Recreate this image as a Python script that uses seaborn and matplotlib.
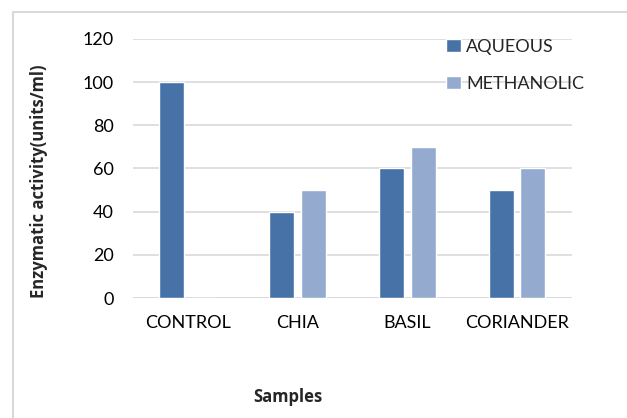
import matplotlib
matplotlib.use("Agg")
import matplotlib.pyplot as plt
import seaborn as sns
import pandas as pd
from matplotlib.patches import Rectangle

categories = ["CONTROL", "CHIA", "BASIL", "CORIANDER"]
aqueous = [100, 40, 60, 50]
methanolic = [0, 50, 70, 60]
series_names = ["AQUEOUS", "METHANOLIC"]
y_ticks = [0, 20, 40, 60, 80, 100, 120]

df = pd.DataFrame({
    "Samples": categories * 2,
    "value": aqueous + methanolic,
    "Extract": [series_names[0]] * len(categories) + [series_names[1]] * len(categories),
})

sns.set_theme(style="white")
plt.rcParams["font.family"] = ["Lato", "DejaVu Sans"]

fig = plt.figure(figsize=(6.27, 4.18), dpi=100)
ax = fig.add_axes([0.212, 0.287, 0.700, 0.620])

palette = {"AQUEOUS": "#4672A8", "METHANOLIC": "#94ABCF"}
sns.barplot(data=df, x="Samples", y="value", hue="Extract", palette=palette,
            width=0.58, gap=0.217, ax=ax, saturation=1, legend=True)

ax.set_ylim(0, 120)
ax.set_xlim(-0.5, 3.5)
ax.set_yticks(y_ticks)
ax.set_yticklabels([str(t) for t in y_ticks])
ax.yaxis.grid(True, color="#D9D9D9", linewidth=1.2)
ax.set_axisbelow(True)
for s in ax.spines.values():
    s.set_visible(False)
ax.axhline(0, color="#D9D9D9", linewidth=1.2, zorder=0.5)
ax.tick_params(axis="both", length=0, labelsize=13, colors="#000000")
ax.tick_params(axis="x", pad=12)
ax.tick_params(axis="y", pad=14)

ax.set_ylabel("Enzymatic activity(units/ml)", fontsize=12, fontweight="bold",
              family=["Open Sans", "DejaVu Sans"])
ax.yaxis.set_label_coords(-0.214, 0.45)
ax.set_xlabel("Samples", fontsize=12, fontweight="bold",
              family=["Open Sans", "DejaVu Sans"])
ax.xaxis.set_label_coords(0.353, -0.382)
ax.xaxis.label.set_va("center")
ax.yaxis.label.set_va("center")

handles, labels = ax.get_legend_handles_labels()
ax.legend_.remove()
fig.legend(handles, labels, loc="upper left", bbox_to_anchor=(0.700, 0.925),
           frameon=False, fontsize=13, handlelength=0.8, handleheight=0.8,
           handletextpad=0.3, labelspacing=1.15, borderaxespad=0)

fig.patches.append(Rectangle((13 / 627, -0.1), 1.2, 1 - 12 / 418 + 0.1,
                             transform=fig.transFigure, fill=False,
                             edgecolor="#D9D9D9", linewidth=1.5))

fig.savefig("out.png", dpi=100)
